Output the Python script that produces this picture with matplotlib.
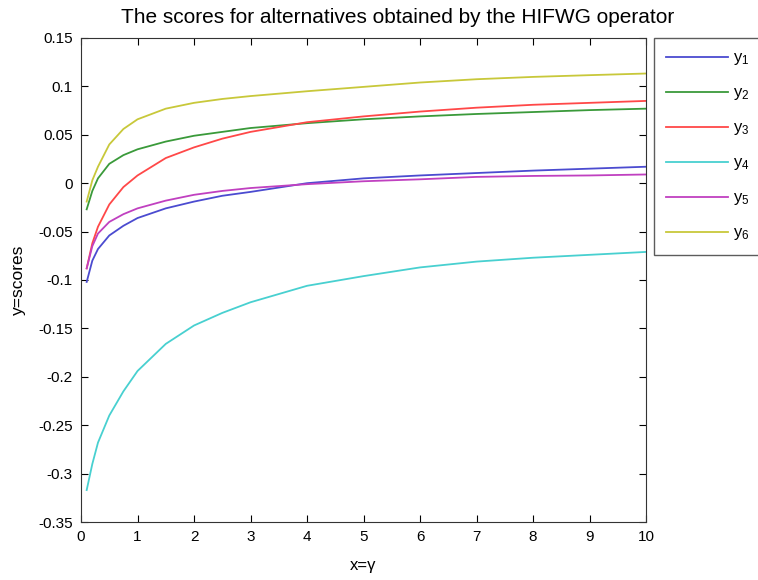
import matplotlib.pyplot as plt

plt.rcParams['font.family'] = ['Liberation Sans', 'DejaVu Sans']

# gamma values at which the scores were evaluated
x = [0.1, 0.2, 0.3, 0.5, 0.75, 1, 1.5, 2, 2.5, 3, 4, 5, 6, 7, 8, 9, 10]

y1 = [-0.102, -0.080, -0.068, -0.054, -0.044, -0.036, -0.026, -0.019, -0.013, -0.009,
      0.000, 0.005, 0.008, 0.0105, 0.013, 0.015, 0.017]
y2 = [-0.027, -0.008, 0.005, 0.020, 0.029, 0.035, 0.043, 0.049, 0.053, 0.057,
      0.062, 0.066, 0.069, 0.0715, 0.0735, 0.0755, 0.077]
y3 = [-0.088, -0.062, -0.045, -0.022, -0.004, 0.008, 0.026, 0.037, 0.046, 0.053,
      0.063, 0.069, 0.074, 0.078, 0.081, 0.083, 0.085]
y4 = [-0.317, -0.290, -0.268, -0.240, -0.215, -0.194, -0.166, -0.147, -0.134, -0.123,
      -0.106, -0.096, -0.087, -0.081, -0.077, -0.074, -0.071]
y5 = [-0.088, -0.065, -0.052, -0.040, -0.032, -0.026, -0.018, -0.012, -0.008, -0.005,
      -0.001, 0.002, 0.004, 0.0065, 0.0075, 0.008, 0.009]
y6 = [-0.019, 0.003, 0.017, 0.040, 0.056, 0.066, 0.077, 0.083, 0.087, 0.090,
      0.095, 0.0995, 0.104, 0.1074, 0.1098, 0.1116, 0.1133]

series = [y1, y2, y3, y4, y5, y6]
labels = [r'$\mathregular{y_%d}$' % i for i in range(1, 7)]
colors = ['#4b4bd0', '#3a9a3a', '#ff4848', '#48d0d0', '#c040c0', '#c8c83a']

yticks = [-0.35, -0.3, -0.25, -0.2, -0.15, -0.1, -0.05, 0, 0.05, 0.1, 0.15]
ytick_labels = ['-0.35', '-0.3', '-0.25', '-0.2', '-0.15', '-0.1', '-0.05', '0', '0.05', '0.1', '0.15']

fig = plt.figure(figsize=(7.58, 5.80), dpi=100)
ax = fig.add_axes([0.1069, 0.1, 0.7454, 0.8345])

for ys, lab, c in zip(series, labels, colors):
    ax.plot(x, ys, color=c, lw=1.3, label=lab)

ax.set_xlim(0, 10)
ax.set_ylim(-0.35, 0.15)
ax.set_xticks(range(0, 11))
ax.set_yticks(yticks)
ax.set_yticklabels(ytick_labels)
ax.tick_params(direction='in', top=True, right=True, length=5, labelsize=11, pad=6)
for sp in ax.spines.values():
    sp.set_color('#333333')

fig.text(398 / 758, 1 - 23 / 580, 'The scores for alternatives obtained by the HIFWG operator',
         ha='center', va='baseline', fontsize=15)
ax.set_xlabel('x=γ', fontsize=12, labelpad=10)
ax.set_ylabel('y=scores', fontsize=12.5, labelpad=9)

leg = ax.legend(loc='upper left', bbox_to_anchor=(1.014, 1.0), borderaxespad=0,
                fancybox=False, edgecolor='#333333', fontsize=12,
                handlelength=3.7, labelspacing=1.08, borderpad=0.75, handletextpad=0.3)
leg.get_frame().set_linewidth(1.0)

fig.savefig('out.png', dpi=100)
